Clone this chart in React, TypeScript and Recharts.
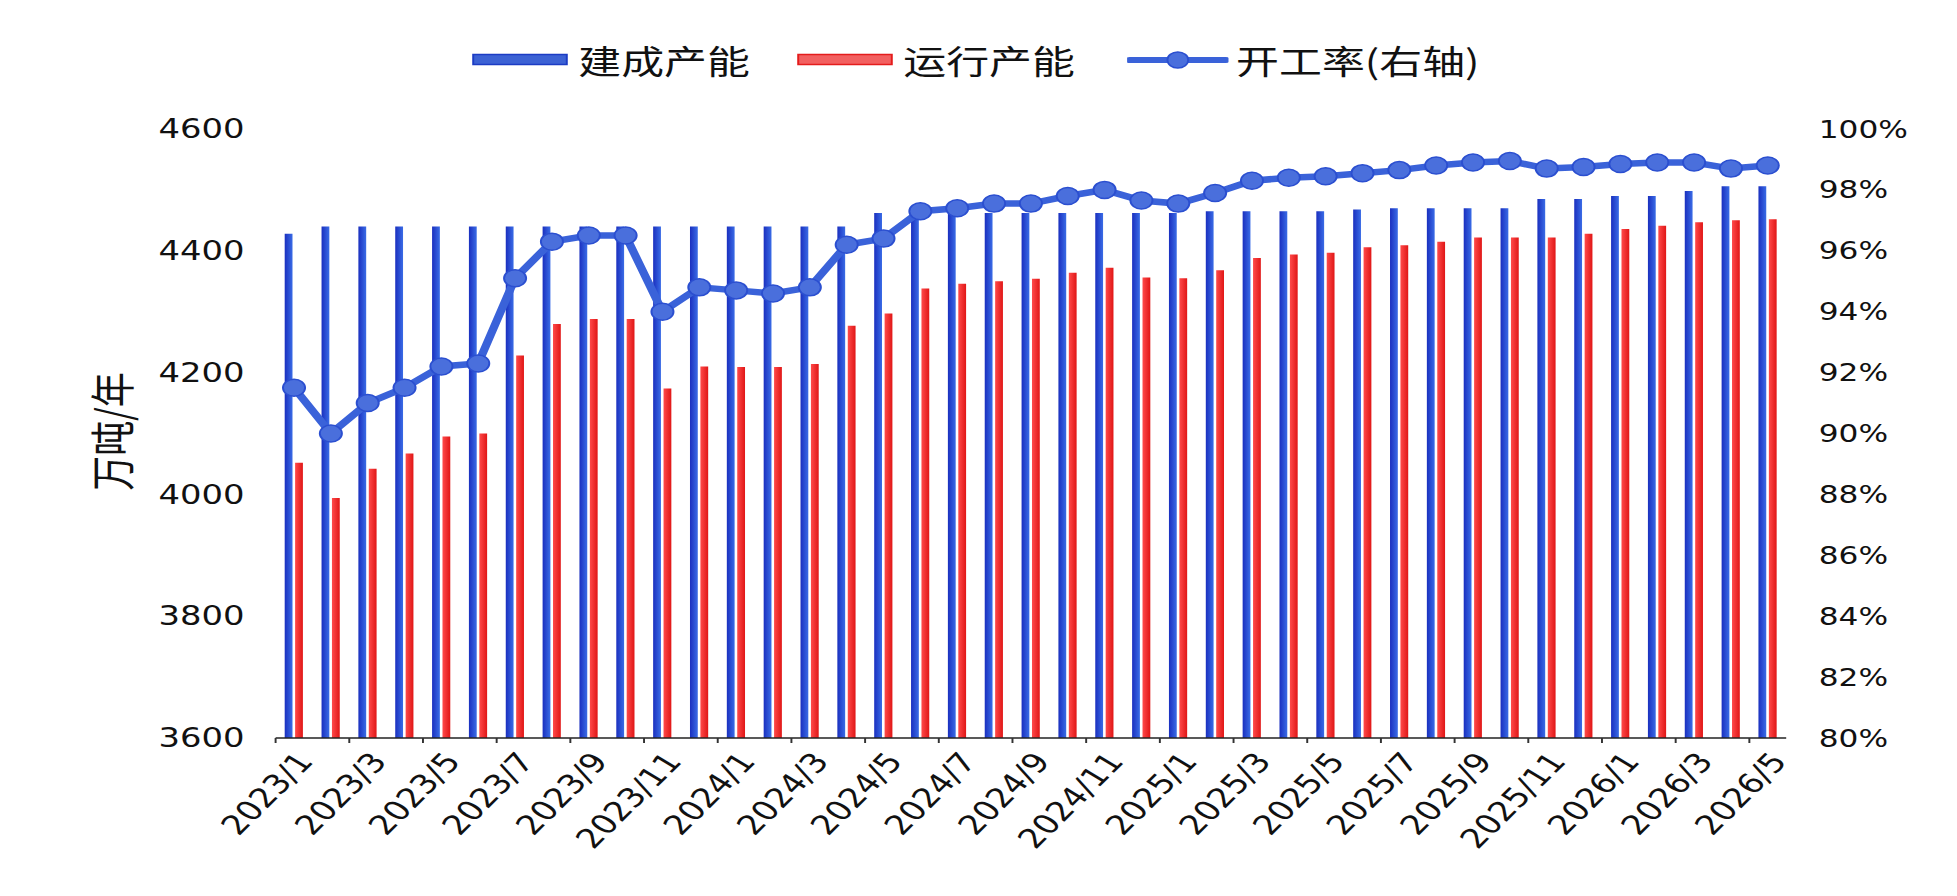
import React from 'react';
import { ComposedChart, Bar, Line, XAxis, YAxis, Legend } from 'recharts';

const months = [
  '2023/1', '2023/2', '2023/3', '2023/4', '2023/5', '2023/6', '2023/7', '2023/8', '2023/9', '2023/10', '2023/11', '2023/12',
  '2024/1', '2024/2', '2024/3', '2024/4', '2024/5', '2024/6', '2024/7', '2024/8', '2024/9', '2024/10', '2024/11', '2024/12',
  '2025/1', '2025/2', '2025/3', '2025/4', '2025/5', '2025/6', '2025/7', '2025/8', '2025/9', '2025/10', '2025/11', '2025/12',
  '2026/1', '2026/2', '2026/3', '2026/4', '2026/5',
];

// 建成产能 (万吨/年)
const builtCapacity = [
  4428, 4440, 4440, 4440, 4440, 4440, 4440, 4440, 4440, 4440, 4440, 4440,
  4440, 4440, 4440, 4440, 4462, 4462, 4462, 4462, 4462, 4462, 4462, 4462,
  4462, 4465, 4465, 4465, 4465, 4468, 4470, 4470, 4470, 4470, 4485, 4485,
  4490, 4490, 4498, 4506, 4506,
];

// 运行产能 (万吨/年)
const runningCapacity = [
  4052, 3994, 4042, 4067, 4095, 4100, 4228, 4280, 4288, 4288, 4174, 4210,
  4209, 4209, 4214, 4277, 4297, 4338, 4346, 4350, 4354, 4364, 4372, 4356,
  4355, 4368, 4388, 4394, 4397, 4406, 4409, 4415, 4422, 4422, 4422, 4428,
  4436, 4441, 4447, 4450, 4452,
];

// 开工率 (%)
const utilization = [
  91.5, 90.0, 91.0, 91.5, 92.2, 92.3, 95.1, 96.3, 96.5, 96.5, 94.0, 94.8,
  94.7, 94.6, 94.8, 96.2, 96.4, 97.3, 97.4, 97.55, 97.55, 97.8, 98.0, 97.65,
  97.55, 97.9, 98.3, 98.4, 98.45, 98.55, 98.65, 98.8, 98.9, 98.95, 98.7, 98.75,
  98.85, 98.9, 98.9, 98.7, 98.8,
];

const leftTicks = [3600, 3800, 4000, 4200, 4400, 4600];
const rightTicks = [80, 82, 84, 86, 88, 90, 92, 94, 96, 98, 100];

const seriesNames = { built: '建成产能', running: '运行产能', rate: '开工率(右轴)' };
const yTitle = '万吨/年';

const data = months.map((m, i) => ({
  month: m,
  built: builtCapacity[i],
  running: runningCapacity[i],
  rate: utilization[i],
}));

const SX = 1.3;
const W = 1957;
const H = 896;
const IW = Math.round(W / SX);

const NUM_FONT = '"DejaVu Sans", sans-serif';
const CJK_FONT = '"Noto Sans CJK SC", sans-serif';

const BLUE_LINE = '#3a62d9';

const XTick = (props: any) => {
  const { x, y, payload, index } = props;
  const i = payload && typeof payload.index === 'number' ? payload.index : index;
  if (i % 2 !== 0) return <g />;
  const half = payload && payload.offset ? payload.offset : 14;
  const ax = x + 3;
  const ay = y + 14;
  return (
    <g>
      <line x1={x - half} x2={x - half} y1={y} y2={y + 5} stroke="#333" strokeWidth={1.5} />
      <text
        x={ax}
        y={ay}
        dy="0.6em"
        textAnchor="end"
        transform={`rotate(-52, ${ax}, ${ay})`}
        fontSize={27}
        fontFamily={NUM_FONT}
        fill="#111"
      >
        {payload.value}
      </text>
    </g>
  );
};

const YTitle = (props: any) => {
  const vb = props.viewBox || {};
  const cx = (vb.x || 0) + 85;
  const cy = (vb.y || 0) + (vb.height || 0) / 2 - 2;
  return (
    <text
      x={cx}
      y={cy}
      textAnchor="middle"
      dominantBaseline="central"
      transform={`rotate(-90, ${cx}, ${cy})`}
      fontSize={35}
      fontFamily={CJK_FONT}
      fill="#111"
    >
      {yTitle}
    </text>
  );
};

const LegendContent = () => {
  const itemStyle: React.CSSProperties = { display: 'flex', alignItems: 'center' };
  const textStyle: React.CSSProperties = { fontFamily: CJK_FONT, fontSize: 33, color: '#111', lineHeight: '40px' };
  return (
    <div style={{ display: 'flex', justifyContent: 'center', alignItems: 'center', width: '100%', paddingRight: 4, boxSizing: 'border-box' }}>
      <div style={{ ...itemStyle, marginRight: 36 }}>
        <svg width={74} height={14} style={{ marginRight: 8 }}>
          <rect x={1} y={1.5} width={72} height={10} fill="#3c62d4" stroke="#1c3cc4" strokeWidth={1.5} />
        </svg>
        <span style={textStyle}>{seriesNames.built}</span>
      </div>
      <div style={{ ...itemStyle, marginRight: 40 }}>
        <svg width={74} height={14} style={{ marginRight: 8 }}>
          <rect x={1} y={1.5} width={72} height={10} fill="#f26060" stroke="#e41c1c" strokeWidth={1.5} />
        </svg>
        <span style={textStyle}>{seriesNames.running}</span>
      </div>
      <div style={itemStyle}>
        <svg width={78} height={22} style={{ marginRight: 6 }}>
          <line x1={2} x2={76} y1={11} y2={11} stroke={BLUE_LINE} strokeWidth={6} strokeLinecap="round" />
          <circle cx={39} cy={11} r={8} fill="#4a6fdc" stroke="#2b4fd0" strokeWidth={1.5} />
        </svg>
        <span style={textStyle}>{seriesNames.rate}</span>
      </div>
    </div>
  );
};

export default function App() {
  return (
    <div style={{ position: 'absolute', left: 0, top: 0, width: W, height: H, overflow: 'hidden', background: '#fff' }}>
      <div style={{ width: IW, height: H, transform: `scaleX(${SX})`, transformOrigin: '0 0' }}>
        <ComposedChart
          width={IW}
          height={H}
          data={data}
          margin={{ top: 129, right: 0, bottom: 8, left: 0 }}
          barGap={2}
        >
          <defs>
            <linearGradient id="gBlue" x1="0" y1="0" x2="1" y2="0">
              <stop offset="0%" stopColor="#1a2fbf" />
              <stop offset="100%" stopColor="#3a6ce6" />
            </linearGradient>
            <linearGradient id="gRed" x1="0" y1="0" x2="1" y2="0">
              <stop offset="0%" stopColor="#ff4a4a" />
              <stop offset="100%" stopColor="#e01616" />
            </linearGradient>
          </defs>
          <XAxis
            dataKey="month"
            interval={0}
            height={150}
            tickSize={0}
            tickMargin={0}
            tickLine={false}
            axisLine={{ stroke: '#222', strokeWidth: 1.5 }}
            tick={<XTick />}
          />
          <YAxis
            yAxisId="left"
            orientation="left"
            width={212}
            domain={[3600, 4600]}
            ticks={leftTicks}
            allowDataOverflow
            axisLine={false}
            tickLine={false}
            tickSize={0}
            tickMargin={24}
            tick={{ fontSize: 26, fontFamily: NUM_FONT, fill: '#111' }}
            label={{ content: <YTitle /> } as any}
          />
          <YAxis
            yAxisId="right"
            orientation="right"
            width={131}
            domain={[80, 100]}
            ticks={rightTicks}
            allowDataOverflow
            axisLine={false}
            tickLine={false}
            tickSize={0}
            tickMargin={25}
            tickFormatter={(v: number) => `${v}%`}
            tick={{ fontSize: 24, fontFamily: NUM_FONT, fill: '#111' }}
          />
          <Legend
            layout="horizontal"
            verticalAlign="middle"
            align="center"
            wrapperStyle={{ top: 40, left: 0, width: IW, height: 44 }}
            content={<LegendContent />}
          />
          <Bar yAxisId="left" dataKey="built" name={seriesNames.built} fill="url(#gBlue)" barSize={6} isAnimationActive={false} />
          <Bar yAxisId="left" dataKey="running" name={seriesNames.running} fill="url(#gRed)" barSize={6} isAnimationActive={false} />
          <Line
            yAxisId="right"
            type="linear"
            dataKey="rate"
            name={seriesNames.rate}
            stroke={BLUE_LINE}
            strokeWidth={6.5}
            dot={{ r: 8.5, fill: '#4a6fdc', stroke: '#2b4fd0', strokeWidth: 1.5 }}
            activeDot={false}
            isAnimationActive={false}
          />
        </ComposedChart>
      </div>
    </div>
  );
}
